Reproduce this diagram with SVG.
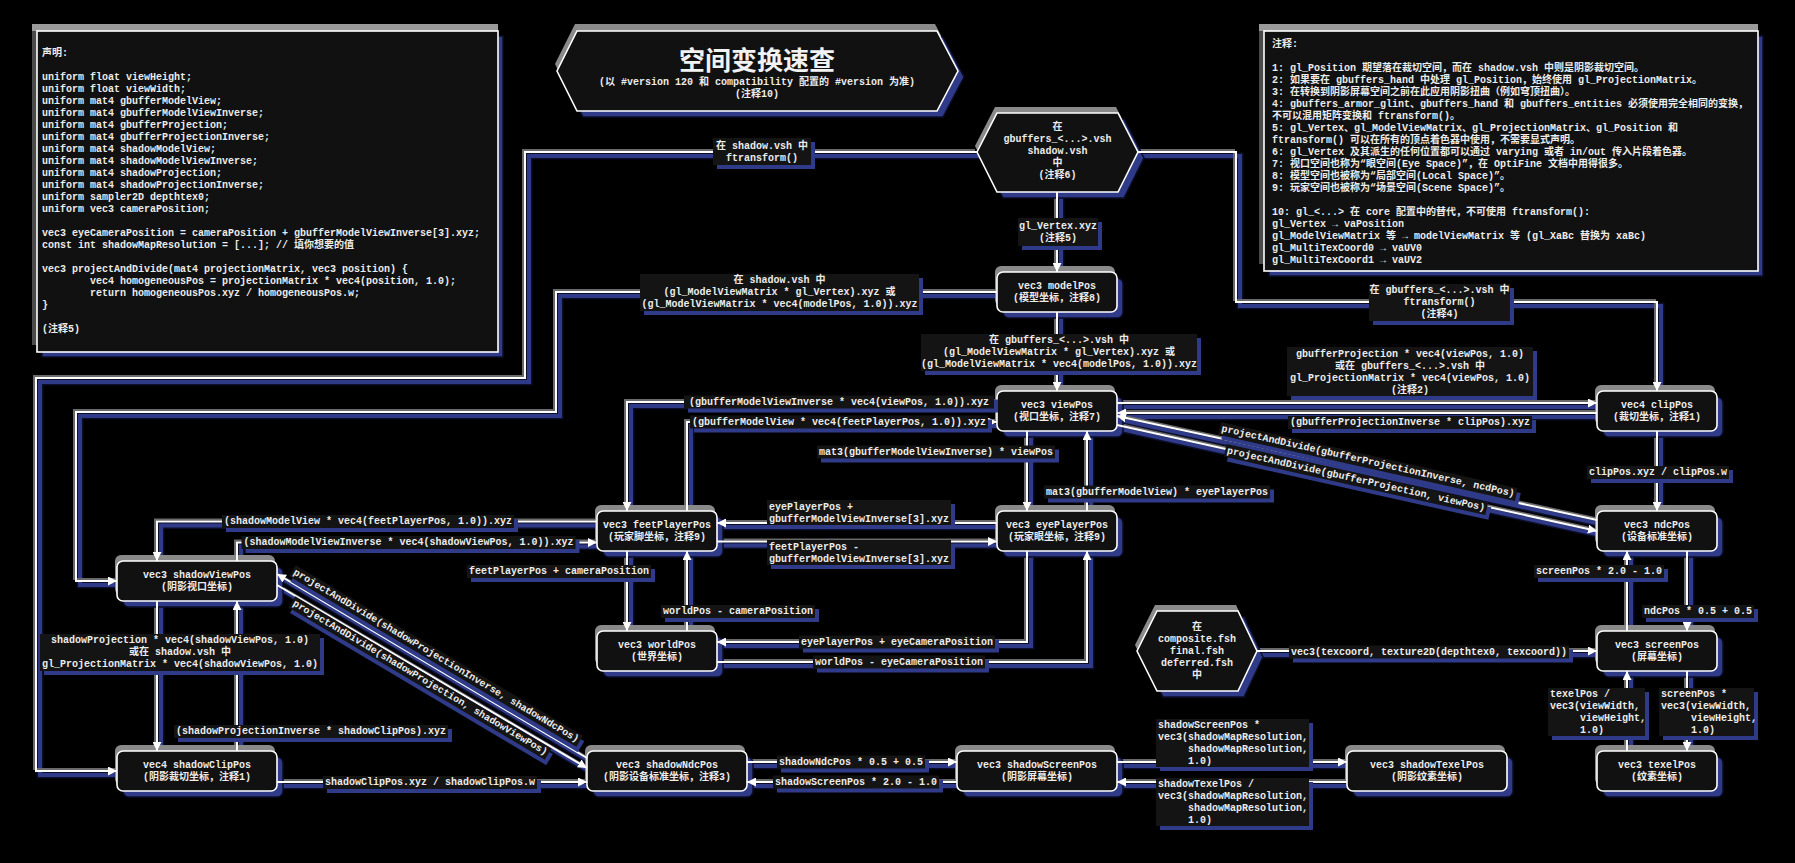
<svg xmlns="http://www.w3.org/2000/svg" width="1795" height="863" viewBox="0 0 1795 863">
<style>
text{font-family:"Liberation Mono","Noto Sans CJK SC",monospace;font-size:10px;fill:#ececec;font-weight:bold;dominant-baseline:central}
.c{text-anchor:middle}
.title{font-family:"Noto Sans CJK SC","Noto Sans",sans-serif;font-size:26px;font-weight:bold;fill:#f2f2f2}
.body{fill:#111;stroke:#fff;stroke-width:1.6}
.nsh{fill:#2f3b88;stroke:#0c0e2a;stroke-width:1.5}
.nhl{fill:#8a8a8a}
.lb{fill:#141414}
.lsh{fill:#2f3b88}
.edk{fill:none;stroke:#0c0e2a;stroke-width:7}
.esh{fill:none;stroke:#2f3b88;stroke-width:4}
.ehl{fill:none;stroke:#6a6a6a;stroke-width:2}
.e{fill:none;stroke:#fff;stroke-width:2;marker-end:url(#ah)}
</style>
<defs>
<marker id="ah" viewBox="0 0 10 10" refX="10" refY="5" markerWidth="9" markerHeight="9" markerUnits="userSpaceOnUse" orient="auto"><path d="M0,0 L10,5 L0,10 z" fill="#fff"/></marker>
<path id="e1" d="M1057,192 V272"/>
<path id="e2" d="M1057,312 V391"/>
<path id="e3" d="M977,152 H525 V378 H36 V771 H117"/>
<path id="e4" d="M997,292 H556 V412 H76 V581 H117"/>
<path id="e5" d="M1138,152 H1236 V302 H1657 V391"/>
<path id="e6" d="M1117,403 H1597"/>
<path id="e7" d="M1597,413 H1117"/>
<path id="e8" d="M1657,431 V511"/>
<path id="e9" d="M1687,551 V631"/>
<path id="e10" d="M1627,631 V551"/>
<path id="e11" d="M1687,671 V751"/>
<path id="e12" d="M1627,751 V671"/>
<path id="e13" d="M1257,651 H1597"/>
<path id="e14" d="M1117,762 H1347"/>
<path id="e15" d="M1347,782 H1117"/>
<path id="e16" d="M747,762 H957"/>
<path id="e17" d="M957,782 H747"/>
<path id="e18" d="M277,782 H587"/>
<path id="e19" d="M157,601 V751"/>
<path id="e20" d="M237,751 V601"/>
<path id="e21" d="M597,521.5 H157 V561"/>
<path id="e22" d="M237,561 V542.5 H597"/>
<path id="e23" d="M997,402 H627 V511"/>
<path id="e24" d="M687,511 V422 H997"/>
<path id="e25" d="M1027,431 V511"/>
<path id="e26" d="M1087,511 V431"/>
<path id="e27" d="M997,523 H717"/>
<path id="e28" d="M717,541.5 H997"/>
<path id="e29" d="M627,551 V631"/>
<path id="e30" d="M687,631 V551"/>
<path id="e31" d="M1027,551 V642 H717"/>
<path id="e32" d="M717,662 H1087 V551"/>
<path id="e33" d="M1597,520 L1117,416"/>
<path id="e34" d="M1117,425 L1597,531"/>
<path id="e35" d="M587,758 L277,574"/>
<path id="e36" d="M277,585 L587,768"/>
</defs>
<rect width="1795" height="863" fill="#000"/>

<g id="decl">
<rect x="32" y="24" width="466" height="321" fill="#4a4a4a"/>
<rect x="32" y="24" width="466" height="7" fill="#9a9a9a"/>
<rect class="nsh" x="42" y="36" width="461" height="321"/>
<rect class="body" x="37" y="31" width="461" height="321"/>
<text><tspan x="42" y="53.3">声明:</tspan><tspan x="42" y="77.3">uniform float viewHeight;</tspan><tspan x="42" y="89.3">uniform float viewWidth;</tspan><tspan x="42" y="101.3">uniform mat4 gbufferModelView;</tspan><tspan x="42" y="113.3">uniform mat4 gbufferModelViewInverse;</tspan><tspan x="42" y="125.3">uniform mat4 gbufferProjection;</tspan><tspan x="42" y="137.3">uniform mat4 gbufferProjectionInverse;</tspan><tspan x="42" y="149.3">uniform mat4 shadowModelView;</tspan><tspan x="42" y="161.3">uniform mat4 shadowModelViewInverse;</tspan><tspan x="42" y="173.3">uniform mat4 shadowProjection;</tspan><tspan x="42" y="185.3">uniform mat4 shadowProjectionInverse;</tspan><tspan x="42" y="197.3">uniform sampler2D depthtex0;</tspan><tspan x="42" y="209.3">uniform vec3 cameraPosition;</tspan><tspan x="42" y="233.3">vec3 eyeCameraPosition = cameraPosition + gbufferModelViewInverse[3].xyz;</tspan><tspan x="42" y="245.3">const int shadowMapResolution = [...]; // 填你想要的值</tspan><tspan x="42" y="269.3">vec3 projectAndDivide(mat4 projectionMatrix, vec3 position) {</tspan><tspan x="90" y="281.3">vec4 homogeneousPos = projectionMatrix * vec4(position, 1.0);</tspan><tspan x="90" y="293.3">return homogeneousPos.xyz / homogeneousPos.w;</tspan><tspan x="42" y="305.3">}</tspan><tspan x="42" y="329.3">(注释5)</tspan></text>
</g>

<g id="title">
<polygon points="557,71 577,31 937,31 958,71 937,111 577,111" fill="#8a8a8a" transform="translate(-2,-7)"/>
<polygon class="nsh" points="557,71 577,31 937,31 958,71 937,111 577,111" transform="translate(6,6)"/>
<polygon class="body" points="557,71 577,31 937,31 958,71 937,111 577,111" stroke-width="2"/>
<text class="c title" x="757" y="58">空间变换速查</text>
<text class="c" x="757" y="82">(以 #version 120 和 compatibility 配置的 #version 为准)</text>
<text class="c" x="757" y="94">(注释10)</text>
</g>

<g id="notes">
<rect x="1259" y="24" width="499" height="240" fill="#4a4a4a"/>
<rect x="1259" y="24" width="499" height="7" fill="#9a9a9a"/>
<rect class="nsh" x="1269" y="36" width="494" height="240"/>
<rect class="body" x="1264" y="31" width="494" height="240"/>
<text><tspan x="1272" y="44">注释:</tspan><tspan x="1272" y="68">1: gl_Position 期望落在裁切空间，而在 shadow.vsh 中则是阴影裁切空间。</tspan><tspan x="1272" y="80">2: 如果要在 gbuffers_hand 中处理 gl_Position，始终使用 gl_ProjectionMatrix。</tspan><tspan x="1272" y="92">3: 在转换到阴影屏幕空间之前在此应用阴影扭曲（例如穹顶扭曲）。</tspan><tspan x="1272" y="104">4: gbuffers_armor_glint、gbuffers_hand 和 gbuffers_entities 必须使用完全相同的变换，</tspan><tspan x="1272" y="116">不可以混用矩阵变换和 ftransform()。</tspan><tspan x="1272" y="128">5: gl_Vertex、gl_ModelViewMatrix、gl_ProjectionMatrix、gl_Position 和</tspan><tspan x="1272" y="140">ftransform() 可以在所有的顶点着色器中使用，不需要显式声明。</tspan><tspan x="1272" y="152">6: gl_Vertex 及其派生的任何位置都可以通过 varying 或者 in/out 传入片段着色器。</tspan><tspan x="1272" y="164">7: 视口空间也称为“眼空间(Eye Space)”，在 OptiFine 文档中用得很多。</tspan><tspan x="1272" y="176">8: 模型空间也被称为“局部空间(Local Space)”。</tspan><tspan x="1272" y="188">9: 玩家空间也被称为“场景空间(Scene Space)”。</tspan><tspan x="1272" y="212">10: gl_&lt;...&gt; 在 core 配置中的替代，不可使用 ftransform():</tspan><tspan x="1272" y="224">gl_Vertex → vaPosition</tspan><tspan x="1272" y="236">gl_ModelViewMatrix 等 → modelViewMatrix 等 (gl_XaBc 替换为 xaBc)</tspan><tspan x="1272" y="248">gl_MultiTexCoord0 → vaUV0</tspan><tspan x="1272" y="260">gl_MultiTexCoord1 → vaUV2</tspan></text>
</g>

<g id="connector-shadows">
<g class="edk" transform="translate(4,4)"><use href="#e1"/><use href="#e2"/><use href="#e3"/><use href="#e4"/><use href="#e5"/><use href="#e6"/><use href="#e7"/><use href="#e8"/><use href="#e9"/><use href="#e10"/><use href="#e11"/><use href="#e12"/><use href="#e13"/><use href="#e14"/><use href="#e15"/><use href="#e16"/><use href="#e17"/><use href="#e18"/><use href="#e19"/><use href="#e20"/><use href="#e21"/><use href="#e22"/><use href="#e23"/><use href="#e24"/><use href="#e25"/><use href="#e26"/><use href="#e27"/><use href="#e28"/><use href="#e29"/><use href="#e30"/><use href="#e31"/><use href="#e32"/><use href="#e33"/><use href="#e34"/><use href="#e35"/><use href="#e36"/></g>
<g class="esh" transform="translate(4,4)"><use href="#e1"/><use href="#e2"/><use href="#e3"/><use href="#e4"/><use href="#e5"/><use href="#e6"/><use href="#e7"/><use href="#e8"/><use href="#e9"/><use href="#e10"/><use href="#e11"/><use href="#e12"/><use href="#e13"/><use href="#e14"/><use href="#e15"/><use href="#e16"/><use href="#e17"/><use href="#e18"/><use href="#e19"/><use href="#e20"/><use href="#e21"/><use href="#e22"/><use href="#e23"/><use href="#e24"/><use href="#e25"/><use href="#e26"/><use href="#e27"/><use href="#e28"/><use href="#e29"/><use href="#e30"/><use href="#e31"/><use href="#e32"/><use href="#e33"/><use href="#e34"/><use href="#e35"/><use href="#e36"/></g>
<g class="ehl" transform="translate(-2,-2)"><use href="#e1"/><use href="#e2"/><use href="#e3"/><use href="#e4"/><use href="#e5"/><use href="#e6"/><use href="#e7"/><use href="#e8"/><use href="#e9"/><use href="#e10"/><use href="#e11"/><use href="#e12"/><use href="#e13"/><use href="#e14"/><use href="#e15"/><use href="#e16"/><use href="#e17"/><use href="#e18"/><use href="#e19"/><use href="#e20"/><use href="#e21"/><use href="#e22"/><use href="#e23"/><use href="#e24"/><use href="#e25"/><use href="#e26"/><use href="#e27"/><use href="#e28"/><use href="#e29"/><use href="#e30"/><use href="#e31"/><use href="#e32"/><use href="#e33"/><use href="#e34"/><use href="#e35"/><use href="#e36"/></g>
</g>

<g id="nodes">
<g id="hex-gbuffers"><polygon points="977,152 997,113 1118,113 1138,152 1118,192 997,192" fill="#8a8a8a" transform="translate(-2,-6)"/><polygon class="nsh" points="977,152 997,113 1118,113 1138,152 1118,192 997,192" transform="translate(6,6)"/><polygon class="body" points="977,152 997,113 1118,113 1138,152 1118,192 997,192"/><text class="c" x="1057.5" y="127">在</text><text class="c" x="1057.5" y="139">gbuffers_&lt;...&gt;.vsh</text><text class="c" x="1057.5" y="151">shadow.vsh</text><text class="c" x="1057.5" y="163">中</text><text class="c" x="1057.5" y="175">(注释6)</text></g>
<g id="hex-composite"><polygon points="1137,651 1157,611 1238,611 1257,651 1238,691 1157,691" fill="#8a8a8a" transform="translate(-2,-6)"/><polygon class="nsh" points="1137,651 1157,611 1238,611 1257,651 1238,691 1157,691" transform="translate(6,6)"/><polygon class="body" points="1137,651 1157,611 1238,611 1257,651 1238,691 1157,691"/><text class="c" x="1197" y="627.5">在</text><text class="c" x="1197" y="639.5">composite.fsh</text><text class="c" x="1197" y="651.5">final.fsh</text><text class="c" x="1197" y="663.5">deferred.fsh</text><text class="c" x="1197" y="675.5">中</text></g>
<g id="n-modelPos"><rect class="nhl" x="995" y="266" width="120" height="40" rx="6"/><rect class="nsh" x="1003" y="278" width="120" height="40" rx="6"/><rect class="body" x="997" y="272" width="120" height="40" rx="6"/><text class="c" x="1057" y="286.5">vec3 modelPos</text><text class="c" x="1057" y="298.5">(模型坐标，注释8)</text></g>
<g id="n-viewPos"><rect class="nhl" x="995" y="385" width="120" height="40" rx="6"/><rect class="nsh" x="1003" y="397" width="120" height="40" rx="6"/><rect class="body" x="997" y="391" width="120" height="40" rx="6"/><text class="c" x="1057" y="405.5">vec3 viewPos</text><text class="c" x="1057" y="417.5">(视口坐标，注释7)</text></g>
<g id="n-clipPos"><rect class="nhl" x="1595" y="385" width="120" height="40" rx="6"/><rect class="nsh" x="1603" y="397" width="120" height="40" rx="6"/><rect class="body" x="1597" y="391" width="120" height="40" rx="6"/><text class="c" x="1657" y="405.5">vec4 clipPos</text><text class="c" x="1657" y="417.5">(裁切坐标，注释1)</text></g>
<g id="n-ndcPos"><rect class="nhl" x="1595" y="505" width="120" height="40" rx="6"/><rect class="nsh" x="1603" y="517" width="120" height="40" rx="6"/><rect class="body" x="1597" y="511" width="120" height="40" rx="6"/><text class="c" x="1657" y="525.5">vec3 ndcPos</text><text class="c" x="1657" y="537.5">(设备标准坐标)</text></g>
<g id="n-screenPos"><rect class="nhl" x="1595" y="625" width="120" height="40" rx="6"/><rect class="nsh" x="1603" y="637" width="120" height="40" rx="6"/><rect class="body" x="1597" y="631" width="120" height="40" rx="6"/><text class="c" x="1657" y="645.5">vec3 screenPos</text><text class="c" x="1657" y="657.5">(屏幕坐标)</text></g>
<g id="n-texelPos"><rect class="nhl" x="1595" y="745" width="120" height="40" rx="6"/><rect class="nsh" x="1603" y="757" width="120" height="40" rx="6"/><rect class="body" x="1597" y="751" width="120" height="40" rx="6"/><text class="c" x="1657" y="765.5">vec3 texelPos</text><text class="c" x="1657" y="777.5">(纹素坐标)</text></g>
<g id="n-feetPlayerPos"><rect class="nhl" x="595" y="505" width="120" height="40" rx="6"/><rect class="nsh" x="603" y="517" width="120" height="40" rx="6"/><rect class="body" x="597" y="511" width="120" height="40" rx="6"/><text class="c" x="657" y="525.5">vec3 feetPlayerPos</text><text class="c" x="657" y="537.5">(玩家脚坐标，注释9)</text></g>
<g id="n-eyePlayerPos"><rect class="nhl" x="995" y="505" width="120" height="40" rx="6"/><rect class="nsh" x="1003" y="517" width="120" height="40" rx="6"/><rect class="body" x="997" y="511" width="120" height="40" rx="6"/><text class="c" x="1057" y="525.5">vec3 eyePlayerPos</text><text class="c" x="1057" y="537.5">(玩家眼坐标，注释9)</text></g>
<g id="n-worldPos"><rect class="nhl" x="595" y="625" width="120" height="40" rx="6"/><rect class="nsh" x="603" y="637" width="120" height="40" rx="6"/><rect class="body" x="597" y="631" width="120" height="40" rx="6"/><text class="c" x="657" y="645.5">vec3 worldPos</text><text class="c" x="657" y="657.5">(世界坐标)</text></g>
<g id="n-shadowViewPos"><rect class="nhl" x="115" y="555" width="160" height="40" rx="6"/><rect class="nsh" x="123" y="567" width="160" height="40" rx="6"/><rect class="body" x="117" y="561" width="160" height="40" rx="6"/><text class="c" x="197" y="575.5">vec3 shadowViewPos</text><text class="c" x="197" y="587.5">(阴影视口坐标)</text></g>
<g id="n-shadowClipPos"><rect class="nhl" x="115" y="745" width="160" height="40" rx="6"/><rect class="nsh" x="123" y="757" width="160" height="40" rx="6"/><rect class="body" x="117" y="751" width="160" height="40" rx="6"/><text class="c" x="197" y="765.5">vec4 shadowClipPos</text><text class="c" x="197" y="777.5">(阴影裁切坐标，注释1)</text></g>
<g id="n-shadowNdcPos"><rect class="nhl" x="585" y="745" width="160" height="40" rx="6"/><rect class="nsh" x="593" y="757" width="160" height="40" rx="6"/><rect class="body" x="587" y="751" width="160" height="40" rx="6"/><text class="c" x="667" y="765.5">vec3 shadowNdcPos</text><text class="c" x="667" y="777.5">(阴影设备标准坐标，注释3)</text></g>
<g id="n-shadowScreenPos"><rect class="nhl" x="955" y="745" width="160" height="40" rx="6"/><rect class="nsh" x="963" y="757" width="160" height="40" rx="6"/><rect class="body" x="957" y="751" width="160" height="40" rx="6"/><text class="c" x="1037" y="765.5">vec3 shadowScreenPos</text><text class="c" x="1037" y="777.5">(阴影屏幕坐标)</text></g>
<g id="n-shadowTexelPos"><rect class="nhl" x="1345" y="745" width="160" height="40" rx="6"/><rect class="nsh" x="1353" y="757" width="160" height="40" rx="6"/><rect class="body" x="1347" y="751" width="160" height="40" rx="6"/><text class="c" x="1427" y="765.5">vec3 shadowTexelPos</text><text class="c" x="1427" y="777.5">(阴影纹素坐标)</text></g>
</g>

<g id="connectors" class="e"><use href="#e1"/><use href="#e2"/><use href="#e3"/><use href="#e4"/><use href="#e5"/><use href="#e6"/><use href="#e7"/><use href="#e8"/><use href="#e9"/><use href="#e10"/><use href="#e11"/><use href="#e12"/><use href="#e13"/><use href="#e14"/><use href="#e15"/><use href="#e16"/><use href="#e17"/><use href="#e18"/><use href="#e19"/><use href="#e20"/><use href="#e21"/><use href="#e22"/><use href="#e23"/><use href="#e24"/><use href="#e25"/><use href="#e26"/><use href="#e27"/><use href="#e28"/><use href="#e29"/><use href="#e30"/><use href="#e31"/><use href="#e32"/><use href="#e33"/><use href="#e34"/><use href="#e35"/><use href="#e36"/></g>

<g id="edge-labels">
<g><rect class="lsh" x="717" y="142" width="98" height="27"/><rect class="lb" x="713" y="138" width="98" height="27"/><text class="c" x="762" y="146.5">在 shadow.vsh 中</text><text class="c" x="762" y="158.5">ftransform()</text></g>
<g><rect class="lsh" x="1022" y="222" width="80" height="28"/><rect class="lb" x="1018" y="218" width="80" height="28"/><text class="c" x="1058" y="226.5">gl_Vertex.xyz</text><text class="c" x="1058" y="238.5">(注释5)</text></g>
<g><rect class="lsh" x="644" y="278" width="279" height="37"/><rect class="lb" x="640" y="274" width="279" height="37"/><text class="c" x="779.5" y="280.5">在 shadow.vsh 中</text><text class="c" x="779.5" y="292.5">(gl_ModelViewMatrix * gl_Vertex).xyz 或</text><text class="c" x="779.5" y="304.5">(gl_ModelViewMatrix * vec4(modelPos, 1.0)).xyz</text></g>
<g><rect class="lsh" x="925" y="338" width="276" height="37"/><rect class="lb" x="921" y="334" width="276" height="37"/><text class="c" x="1059" y="340.5">在 gbuffers_&lt;...&gt;.vsh 中</text><text class="c" x="1059" y="352.5">(gl_ModelViewMatrix * gl_Vertex).xyz 或</text><text class="c" x="1059" y="364.5">(gl_ModelViewMatrix * vec4(modelPos, 1.0)).xyz</text></g>
<g><rect class="lsh" x="1373" y="288" width="141" height="37"/><rect class="lb" x="1369" y="284" width="141" height="37"/><text class="c" x="1439.5" y="290.5">在 gbuffers_&lt;...&gt;.vsh 中</text><text class="c" x="1439.5" y="302.5">ftransform()</text><text class="c" x="1439.5" y="314.5">(注释4)</text></g>
<g><rect class="lsh" x="1291" y="351" width="246" height="49"/><rect class="lb" x="1287" y="347" width="246" height="49"/><text class="c" x="1410" y="354.5">gbufferProjection * vec4(viewPos, 1.0)</text><text class="c" x="1410" y="366.5">或在 gbuffers_&lt;...&gt;.vsh 中</text><text class="c" x="1410" y="378.5">gl_ProjectionMatrix * vec4(viewPos, 1.0)</text><text class="c" x="1410" y="390.5">(注释2)</text></g>
<g><rect class="lsh" x="1292" y="420" width="244" height="13"/><rect class="lb" x="1288" y="416" width="244" height="13"/><text class="c" x="1410" y="422.5">(gbufferProjectionInverse * clipPos).xyz</text></g>
<g><rect class="lsh" x="1591" y="470" width="142" height="13"/><rect class="lb" x="1587" y="466" width="142" height="13"/><text class="c" x="1658" y="472.5">clipPos.xyz / clipPos.w</text></g>
<g><rect class="lsh" x="1538" y="569" width="130" height="13"/><rect class="lb" x="1534" y="565" width="130" height="13"/><text class="c" x="1599" y="571.5">screenPos * 2.0 - 1.0</text></g>
<g><rect class="lsh" x="1646" y="609" width="112" height="13"/><rect class="lb" x="1642" y="605" width="112" height="13"/><text class="c" x="1698" y="611.5">ndcPos * 0.5 + 0.5</text></g>
<g><rect class="lsh" x="1552" y="692" width="97" height="48"/><rect class="lb" x="1548" y="688" width="97" height="48"/><text><tspan x="1550" y="694">texelPos /</tspan><tspan x="1550" y="706">vec3(viewWidth,</tspan><tspan x="1580" y="718">viewHeight,</tspan><tspan x="1580" y="730">1.0)</tspan></text></g>
<g><rect class="lsh" x="1663" y="692" width="95" height="48"/><rect class="lb" x="1659" y="688" width="95" height="48"/><text><tspan x="1661" y="694">screenPos *</tspan><tspan x="1661" y="706">vec3(viewWidth,</tspan><tspan x="1691" y="718">viewHeight,</tspan><tspan x="1691" y="730">1.0)</tspan></text></g>
<g><rect class="lsh" x="1293" y="649.5" width="280" height="13"/><rect class="lb" x="1289" y="645.5" width="280" height="13"/><text class="c" x="1429" y="652">vec3(texcoord, texture2D(depthtex0, texcoord))</text></g>
<g><rect class="lsh" x="688" y="399.5" width="310" height="13"/><rect class="lb" x="684" y="395.5" width="310" height="13"/><text class="c" x="839" y="402">(gbufferModelViewInverse * vec4(viewPos, 1.0)).xyz</text></g>
<g><rect class="lsh" x="694" y="419.5" width="298" height="13"/><rect class="lb" x="690" y="415.5" width="298" height="13"/><text class="c" x="839" y="422">(gbufferModelView * vec4(feetPlayerPos, 1.0)).xyz</text></g>
<g><rect class="lsh" x="821" y="449.5" width="238" height="13"/><rect class="lb" x="817" y="445.5" width="238" height="13"/><text class="c" x="936" y="452">mat3(gbufferModelViewInverse) * viewPos</text></g>
<g><rect class="lsh" x="1048" y="489.5" width="226" height="13"/><rect class="lb" x="1044" y="485.5" width="226" height="13"/><text class="c" x="1157" y="492">mat3(gbufferModelView) * eyePlayerPos</text></g>
<g><rect class="lsh" x="771" y="504" width="184" height="25"/><rect class="lb" x="767" y="500" width="184" height="25"/><text><tspan x="769" y="506.5">eyePlayerPos +</tspan><tspan x="769" y="518.5">gbufferModelViewInverse[3].xyz</tspan></text></g>
<g><rect class="lsh" x="771" y="544" width="184" height="25"/><rect class="lb" x="767" y="540" width="184" height="25"/><text><tspan x="769" y="546.5">feetPlayerPos -</tspan><tspan x="769" y="558.5">gbufferModelViewInverse[3].xyz</tspan></text></g>
<g><rect class="lsh" x="471" y="569" width="184" height="13"/><rect class="lb" x="467" y="565" width="184" height="13"/><text class="c" x="559" y="571.5">feetPlayerPos + cameraPosition</text></g>
<g><rect class="lsh" x="665" y="609" width="154" height="13"/><rect class="lb" x="661" y="605" width="154" height="13"/><text class="c" x="738" y="611.5">worldPos - cameraPosition</text></g>
<g><rect class="lsh" x="803" y="639.5" width="196" height="13"/><rect class="lb" x="799" y="635.5" width="196" height="13"/><text class="c" x="897" y="642">eyePlayerPos + eyeCameraPosition</text></g>
<g><rect class="lsh" x="817" y="659.5" width="172" height="13"/><rect class="lb" x="813" y="655.5" width="172" height="13"/><text class="c" x="899" y="662">worldPos - eyeCameraPosition</text></g>
<g><rect class="lsh" x="226" y="519" width="292" height="13"/><rect class="lb" x="222" y="515" width="292" height="13"/><text class="c" x="368" y="521.5">(shadowModelView * vec4(feetPlayerPos, 1.0)).xyz</text></g>
<g><rect class="lsh" x="245.5" y="540" width="334" height="13"/><rect class="lb" x="241.5" y="536" width="334" height="13"/><text class="c" x="408.5" y="542.5">(shadowModelViewInverse * vec4(shadowViewPos, 1.0)).xyz</text></g>
<g><rect class="lsh" x="44" y="638" width="280" height="37"/><rect class="lb" x="40" y="634" width="280" height="37"/><text class="c" x="180" y="640.5">shadowProjection * vec4(shadowViewPos, 1.0)</text><text class="c" x="180" y="652.5">或在 shadow.vsh 中</text><text class="c" x="180" y="664.5">gl_ProjectionMatrix * vec4(shadowViewPos, 1.0)</text></g>
<g><rect class="lsh" x="178" y="729" width="274" height="13"/><rect class="lb" x="174" y="725" width="274" height="13"/><text class="c" x="311" y="731.5">(shadowProjectionInverse * shadowClipPos).xyz</text></g>
<g><rect class="lsh" x="327" y="780" width="214" height="13"/><rect class="lb" x="323" y="776" width="214" height="13"/><text class="c" x="430" y="782.5">shadowClipPos.xyz / shadowClipPos.w</text></g>
<g><rect class="lsh" x="781" y="759.5" width="148" height="13"/><rect class="lb" x="777" y="755.5" width="148" height="13"/><text class="c" x="851" y="762">shadowNdcPos * 0.5 + 0.5</text></g>
<g><rect class="lsh" x="777" y="779.5" width="166" height="13"/><rect class="lb" x="773" y="775.5" width="166" height="13"/><text class="c" x="856" y="782">shadowScreenPos * 2.0 - 1.0</text></g>
<g><rect class="lsh" x="1160" y="723" width="153" height="48"/><rect class="lb" x="1156" y="719" width="153" height="48"/><text><tspan x="1158" y="725">shadowScreenPos *</tspan><tspan x="1158" y="737">vec3(shadowMapResolution,</tspan><tspan x="1188" y="749">shadowMapResolution,</tspan><tspan x="1188" y="761">1.0)</tspan></text></g>
<g><rect class="lsh" x="1160" y="782" width="153" height="48"/><rect class="lb" x="1156" y="778" width="153" height="48"/><text><tspan x="1158" y="784">shadowTexelPos /</tspan><tspan x="1158" y="796">vec3(shadowMapResolution,</tspan><tspan x="1188" y="808">shadowMapResolution,</tspan><tspan x="1188" y="820">1.0)</tspan></text></g>
<g transform="translate(1368,461.5) rotate(12.6)"><rect class="lsh" x="-148" y="-2.5" width="304" height="13"/><rect class="lb" x="-152" y="-6.5" width="304" height="13"/><text class="c" x="0" y="0">projectAndDivide(gbufferProjectionInverse, ncdPos)</text></g>
<g transform="translate(1356,479.5) rotate(12.6)"><rect class="lsh" x="-130" y="-2.5" width="268" height="13"/><rect class="lb" x="-134" y="-6.5" width="268" height="13"/><text class="c" x="0" y="0">projectAndDivide(gbufferProjection, viewPos)</text></g>
<g transform="translate(436,656) rotate(30.7)"><rect class="lsh" x="-163" y="-2.5" width="334" height="13"/><rect class="lb" x="-167" y="-6.5" width="334" height="13"/><text class="c" x="0" y="0">projectAndDivide(shadowProjectionInverse, shadowNdcPos)</text></g>
<g transform="translate(420,678) rotate(30.7)"><rect class="lsh" x="-145" y="-2.5" width="298" height="13"/><rect class="lb" x="-149" y="-6.5" width="298" height="13"/><text class="c" x="0" y="0">projectAndDivide(shadowProjection, shadowViewPos)</text></g>
</g>
</svg>
